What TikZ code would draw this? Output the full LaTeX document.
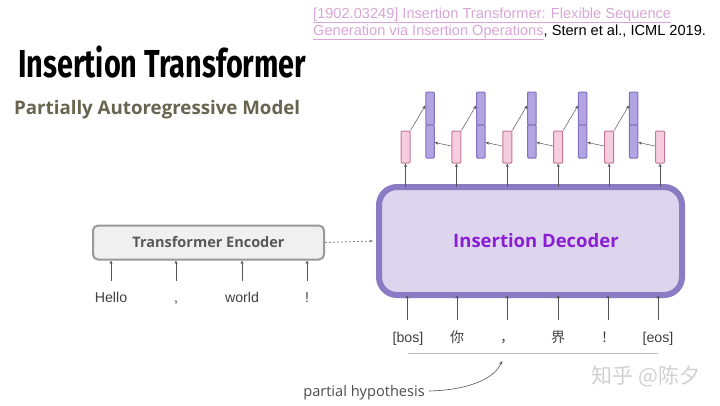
\documentclass[tikz,border=0pt]{standalone}
\usepackage{fontspec}
\setmainfont{Liberation Sans}
\newfontfamily\osans{Open Sans}
\newfontfamily\fira{Fira Sans}
\newfontfamily\cjk{Noto Sans CJK SC}
\usetikzlibrary{arrows.meta}
\definecolor{decfill}{RGB}{221,213,238}
\definecolor{decdraw}{RGB}{138,124,196}
\definecolor{pinkfill}{RGB}{246,205,222}
\definecolor{pinkdraw}{RGB}{196,120,150}
\definecolor{barfill}{RGB}{178,164,226}
\definecolor{bardraw}{RGB}{128,112,190}
\definecolor{decText}{RGB}{138,30,210}
\definecolor{subText}{RGB}{104,100,80}
\definecolor{linkC}{RGB}{216,166,214}
\definecolor{arrC}{RGB}{85,85,85}
\tikzset{
  pinkbox/.style={draw=pinkdraw,fill=pinkfill,line width=1pt,rounded corners=1pt,minimum width=9pt,minimum height=32pt,inner sep=0pt},
  barbox/.style={draw=bardraw,fill=barfill,line width=1pt,rounded corners=1pt,minimum width=8.5pt,minimum height=33pt,inner sep=0pt},
  arr/.style={draw=arrC,line width=0.6pt,-{Stealth[length=3.5pt,width=3pt]}},
  tok/.style={font=\fontsize{14.2}{16}\selectfont,text=black!75,inner sep=0pt},
  ctok/.style={font=\cjk\fontsize{14}{16}\selectfont,text=black!75,inner sep=0pt},
}
\begin{document}
\begin{tikzpicture}[x=1pt,y=-1pt]
\useasboundingbox[fill=white] (0,0) rectangle (720,405);
% citation
\node[anchor=base west,inner sep=0pt,font=\fontsize{14.6}{16}\selectfont,text=linkC] (c1) at (313,18) {\underline{[1902.03249] Insertion Transformer: Flexible Sequence}};
\node[anchor=base west,inner sep=0pt,font=\fontsize{14.6}{16}\selectfont] (c2) at (313,35) {\textcolor{linkC}{\underline{Generation via Insertion Operations}}, Stern et al., ICML 2019.};
% title
\node[anchor=base west,inner sep=0pt] (title) at (18,77) {\scalebox{0.74}[1]{\fira\bfseries\fontsize{39}{41}\selectfont Insertion Transformer}};
\node[anchor=base west,inner sep=0pt,text=subText,font=\osans\bfseries\fontsize{18.7}{21}\selectfont] (sub) at (14,114) {Partially Autoregressive Model};
% decoder
\node[draw=decdraw,fill=decfill,line width=6pt,rounded corners=18pt,minimum width=303pt,minimum height=108pt,inner sep=0pt] (dec) at (530.5,241) {};
\node[text=decText,font=\osans\bfseries\fontsize{18.5}{21}\selectfont] (dect) at (536,241) {Insertion Decoder};
% encoder
\node[draw=black!40,fill=black!6,line width=2pt,rounded corners=5pt,minimum width=231pt,minimum height=34pt,inner sep=0pt] (enc) at (208.5,242.5) {};
\node[text=black!65,font=\osans\bfseries\fontsize{14.5}{17}\selectfont] (enct) at (208.5,242.5) {Transformer Encoder};
\draw[draw=black!50,line width=0.8pt,dashed,dash pattern=on 2pt off 2pt,-{Stealth[length=3.5pt,width=3pt]}] (enc.east) -- ([xshift=-3pt]dec.west);
% encoder tokens
\foreach \n/\x/\t in {1/111/Hello,2/176/{,},3/242/world,4/307/!}{
  \node[tok,anchor=base] (e\n) at (\x,302) {\t};
  \coordinate (es\n) at (\x,281);
  \draw[arr] (es\n) -- (es\n |- enc.south);
}
% pink boxes and bars
\foreach \i in {1,...,6}{
  \pgfmathsetmacro{\px}{405.5+50.9*(\i-1)}
  \node[pinkbox] (p\i) at (\px,147) {};
  \draw[arr] ([yshift=-3pt]p\i |- dec.north) -- (p\i.south);
}
\foreach \i in {1,...,5}{
  \pgfmathsetmacro{\bx}{430+50.9*(\i-1)}
  \node[barbox] (bt\i) at (\bx,108.5) {};
  \node[barbox] (bb\i) at (\bx,141.5) {};
}
\foreach \i/\j in {1/2,2/3,3/4,4/5,5/6}{
  \draw[arr,line width=0.5pt] (p\i.north east) -- ([yshift=3pt]bt\i.west);
  \draw[arr,line width=0.5pt] ([yshift=1pt]p\j.west) -- ([yshift=-1pt]bb\i.east);
}
% decoder tokens
\node[tok,anchor=base] (t1) at (408,342) {[bos]};
\node[ctok,anchor=base] (t2) at (457,342) {你};
\node[ctok,anchor=base] (t3) at (507,342) {，};
\node[ctok,anchor=base] (t4) at (558,342) {界};
\node[ctok,anchor=base] (t5) at (608,342) {！};
\node[tok,anchor=base] (t6) at (658,342) {[eos]};
\foreach \n/\x in {1/407,2/457,3/507,4/558,5/608,6/658}{
  \coordinate (ds\n) at (\x,320);
  \draw[arr] (ds\n) -- ([yshift=3pt]ds\n |- dec.south);
}
\coordinate (u1) at (408,353);
\coordinate (u2) at (658,353);
\draw[black!25,line width=0.8pt] (u1) -- (u2);
% partial hypothesis
\node[anchor=base east,inner sep=0pt,text=black!70,font=\osans\fontsize{14.6}{16}\selectfont] (ph) at (425,396) {partial hypothesis};
\coordinate (phs) at (429,391);
\coordinate (phe) at (502,361);
\draw[arr,line width=0.6pt] (phs) .. controls (470,390) and (495,378) .. (phe);
% watermark
\node[text=black!18,font=\cjk\fontsize{21}{23}\selectfont,inner sep=0pt] (wm) at (646,376) {知乎 @陈夕};
\end{tikzpicture}
\end{document}
